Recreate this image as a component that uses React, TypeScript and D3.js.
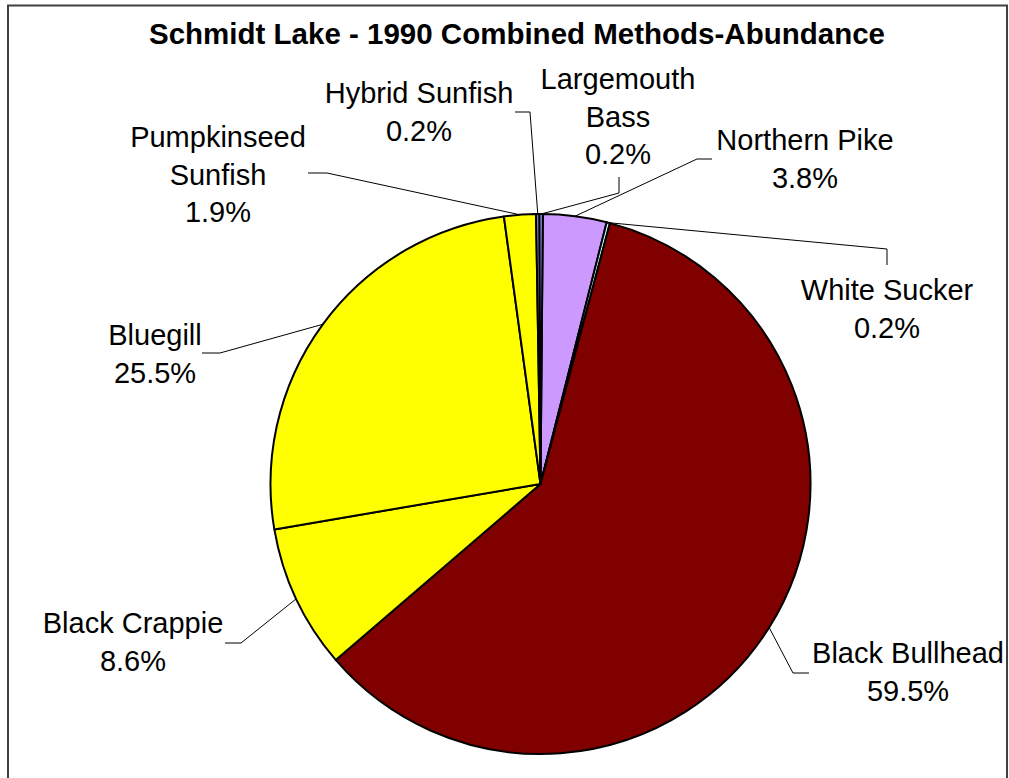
import * as d3 from 'd3'

// slice order as drawn clockwise from 12 o'clock
const species = [
  'Northern Pike',
  'White Sucker',
  'Black Bullhead',
  'Black Crappie',
  'Bluegill',
  'Pumpkinseed Sunfish',
  'Hybrid Sunfish',
  'Largemouth Bass',
]
const percents = [3.8, 0.2, 59.5, 8.6, 25.5, 1.9, 0.2, 0.2]
const colors = ['#CC99FF', '#CCFFFF', '#800000', '#FFFF00', '#FFFF00', '#FFFF00', '#9999FF', '#9999FF']

// label text lines, center x, first baseline, leader start + elbow
const labelLayout: Record<string, { lines: string[]; x: number; y: number; leader: [number, number][] }> = {
  'Northern Pike': { lines: ['Northern Pike', '3.8%'], x: 805, y: 150, leader: [[712, 159], [697, 159]] },
  'White Sucker': { lines: ['White Sucker', '0.2%'], x: 887, y: 300, leader: [[887, 265], [887, 249]] },
  'Black Bullhead': { lines: ['Black Bullhead', '59.5%'], x: 908, y: 663, leader: [[809, 673], [793, 673]] },
  'Black Crappie': { lines: ['Black Crappie', '8.6%'], x: 133, y: 633, leader: [[225, 643], [241, 643]] },
  'Bluegill': { lines: ['Bluegill', '25.5%'], x: 155, y: 345, leader: [[202, 353], [220, 353]] },
  'Pumpkinseed Sunfish': { lines: ['Pumpkinseed', 'Sunfish', '1.9%'], x: 218, y: 147, leader: [[308, 173], [327, 173]] },
  'Hybrid Sunfish': { lines: ['Hybrid Sunfish', '0.2%'], x: 419, y: 103, leader: [[515, 112], [530, 112]] },
  'Largemouth Bass': { lines: ['Largemouth', 'Bass', '0.2%'], x: 618, y: 89, leader: [[619, 177], [619, 193]] },
}

const W = 1009
const H = 778
const cx = 540.5
const cy = 484
const R = 270
const lineGap = 37.5
const font = '"Liberation Sans", Arial, sans-serif'

export default function App() {
  const data = species.map((s, i) => ({ name: s, value: percents[i], color: colors[i] }))
  const offset = (0.5 * Math.PI) / 180
  const pie = d3.pie<typeof data[0]>()
    .sort(null)
    .value(d => d.value)
    .startAngle(offset)
    .endAngle(2 * Math.PI + offset)
  const arcs = pie(data)
  const arcGen = d3.arc<d3.PieArcDatum<typeof data[0]>>().innerRadius(0).outerRadius(R)
  const lineGen = d3.line()

  return (
    <svg
      width={W}
      height={H}
      style={{ position: 'absolute', left: 0, top: 0, display: 'block', background: '#fff' }}
    >
      <rect x={8} y={5.5} width={999} height={H + 20} fill="#fff" stroke="#404040" strokeWidth={2} />
      <text x={517} y={44} textAnchor="middle" fontFamily={font} fontWeight="bold" fontSize={29.5} fill="#000">
        Schmidt Lake - 1990 Combined Methods-Abundance
      </text>

      <g transform={`translate(${cx},${cy})`}>
        {arcs.map(a => (
          <path key={a.data.name} d={arcGen(a) || ''} fill={a.data.color} stroke="#000" strokeWidth={2} strokeLinejoin="round" />
        ))}
      </g>

      {arcs.map(a => {
        const lay = labelLayout[a.data.name]
        const mid = (a.startAngle + a.endAngle) / 2
        const edge: [number, number] = [cx + R * Math.sin(mid), cy - R * Math.cos(mid)]
        const pts: [number, number][] = [...lay.leader, edge]
        return (
          <g key={a.data.name}>
            <path d={lineGen(pts) || ''} fill="none" stroke="#000" strokeWidth={1} />
            <text textAnchor="middle" fontFamily={font} fontSize={29} fill="#000">
              {lay.lines.map((l, i) => (
                <tspan key={i} x={lay.x} y={lay.y + i * lineGap}>{l}</tspan>
              ))}
            </text>
          </g>
        )
      })}
    </svg>
  )
}
